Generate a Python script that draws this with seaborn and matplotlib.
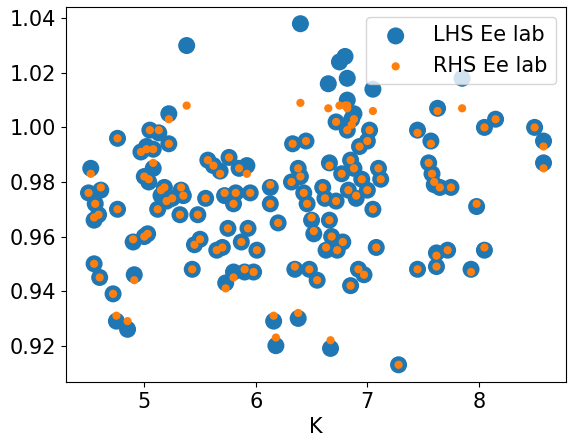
import matplotlib
matplotlib.use("Agg")
import matplotlib.pyplot as plt
import seaborn as sns
import numpy as np

pts = [
(4.52,0.985,0.983),(4.50,0.976,0.976),(4.56,0.972,0.972),(4.61,0.977,0.978),(4.55,0.966,0.967),
(4.59,0.968,0.968),(4.55,0.950,0.950),(4.60,0.945,0.945),(4.72,0.939,0.939),(4.75,0.929,0.931),
(4.85,0.926,0.929),(4.76,0.996,0.996),(4.76,0.970,0.970),(4.90,0.958,0.959),(4.91,0.946,0.944),
(4.97,0.991,0.991),(5.02,0.993,0.992),(5.05,0.999,0.999),(5.08,0.992,0.992),(5.00,0.982,0.982),
(5.04,0.980,0.981),(5.08,0.985,0.987),(5.00,0.960,0.960),(5.03,0.961,0.961),(5.13,0.998,0.999),
(5.15,0.975,0.977),(5.12,0.970,0.970),(5.20,0.973,0.973),(5.22,1.005,1.003),(5.22,0.994,0.994),
(5.18,0.978,0.978),(5.25,0.974,0.974),(5.33,0.977,0.978),(5.35,0.975,0.975),(5.32,0.968,0.968),
(5.38,1.030,1.008),(5.43,0.948,0.948),(5.45,0.957,0.957),(5.50,0.959,0.959),(5.48,0.968,0.968),
(5.57,0.988,0.988),(5.55,0.974,0.974),(5.62,0.986,0.986),(5.65,0.955,0.955),(5.68,0.984,0.983),
(5.70,0.956,0.956),(5.72,0.975,0.976),(5.73,0.943,0.941),(5.76,0.989,0.989),(5.75,0.963,0.963),
(5.80,0.947,0.945),(5.82,0.976,0.976),(5.80,0.972,0.972),(5.85,0.985,0.985),(5.87,0.958,0.958),
(5.90,0.947,0.948),(5.92,0.986,0.983),(5.93,0.963,0.963),(5.95,0.976,0.976),(5.98,0.947,0.947),
(6.01,0.955,0.955),(6.13,0.978,0.979),(6.13,0.972,0.972),(6.16,0.929,0.931),(6.18,0.920,0.923),
(6.20,0.965,0.965),(6.33,0.994,0.994),(6.32,0.980,0.980),(6.35,0.948,0.949),(6.38,0.930,0.932),
(6.38,0.985,0.985),(6.40,1.038,1.009),(6.40,0.982,0.982),(6.43,0.976,0.976),(6.45,0.995,0.995),
(6.46,0.972,0.972),(6.48,0.948,0.948),(6.50,0.966,0.967),(6.52,0.961,0.962),(6.55,0.944,0.944),
(6.60,0.978,0.978),(6.62,0.974,0.974),(6.63,0.955,0.956),(6.65,1.016,1.007),(6.66,0.987,0.986),
(6.66,0.966,0.966),(6.67,0.919,0.922),(6.68,0.960,0.960),(6.72,1.002,1.002),(6.72,0.973,0.973),
(6.73,0.955,0.955),(6.75,1.024,1.008),(6.77,0.983,0.983),(6.78,0.958,0.958),(6.80,1.026,1.008),
(6.82,1.018,1.008),(6.82,1.010,1.007),(6.82,0.999,0.999),(6.83,0.977,0.977),(6.85,0.942,0.942),
(6.86,1.003,1.001),(6.88,1.005,1.003),(6.85,0.988,0.988),(6.88,0.985,0.985),(6.90,0.974,0.975),
(6.92,0.948,0.948),(6.93,0.993,0.993),(6.95,0.981,0.981),(6.97,0.946,0.946),(7.00,0.977,0.977),
(7.00,0.995,0.995),(7.02,0.999,0.999),(7.05,0.970,0.970),(7.05,1.014,1.006),(7.08,0.956,0.956),
(7.10,0.985,0.985),(7.12,0.981,0.981),(7.28,0.913,0.913),(7.45,0.948,0.948),(7.45,0.999,0.998),
(7.57,0.995,0.994),(7.55,0.987,0.987),(7.58,0.983,0.983),(7.60,0.979,0.980),(7.62,0.949,0.949),
(7.62,0.954,0.953),(7.63,1.007,1.006),(7.65,0.978,0.978),(7.72,0.955,0.955),(7.75,0.978,0.978),
(7.85,1.018,1.007),(7.93,0.948,0.947),(7.98,0.971,0.972),(8.05,1.000,1.000),(8.05,0.955,0.956),
(8.15,1.003,1.003),(8.50,1.000,1.000),(8.58,0.995,0.993),(8.58,0.987,0.985),
]
K = [p[0] for p in pts]
lhs = [p[1] for p in pts]
rhs = [p[2] for p in pts]

fig, ax = plt.subplots(figsize=(5.72, 4.44), dpi=100)
sns.scatterplot(x=K, y=lhs, ax=ax, s=150, color="#1f77b4", edgecolor="none", label="LHS Ee lab")
sns.scatterplot(x=K, y=rhs, ax=ax, s=35, color="#ff7f0e", edgecolor="none", label="RHS Ee lab")
ax.set_xlabel("K", fontsize=15)
ax.tick_params(labelsize=15)
ax.set_xticks([5, 6, 7, 8])
ax.legend(loc="upper right", fontsize=15)
fig.subplots_adjust(left=0.115, right=0.99, top=0.985, bottom=0.14)
fig.savefig("out.png")
